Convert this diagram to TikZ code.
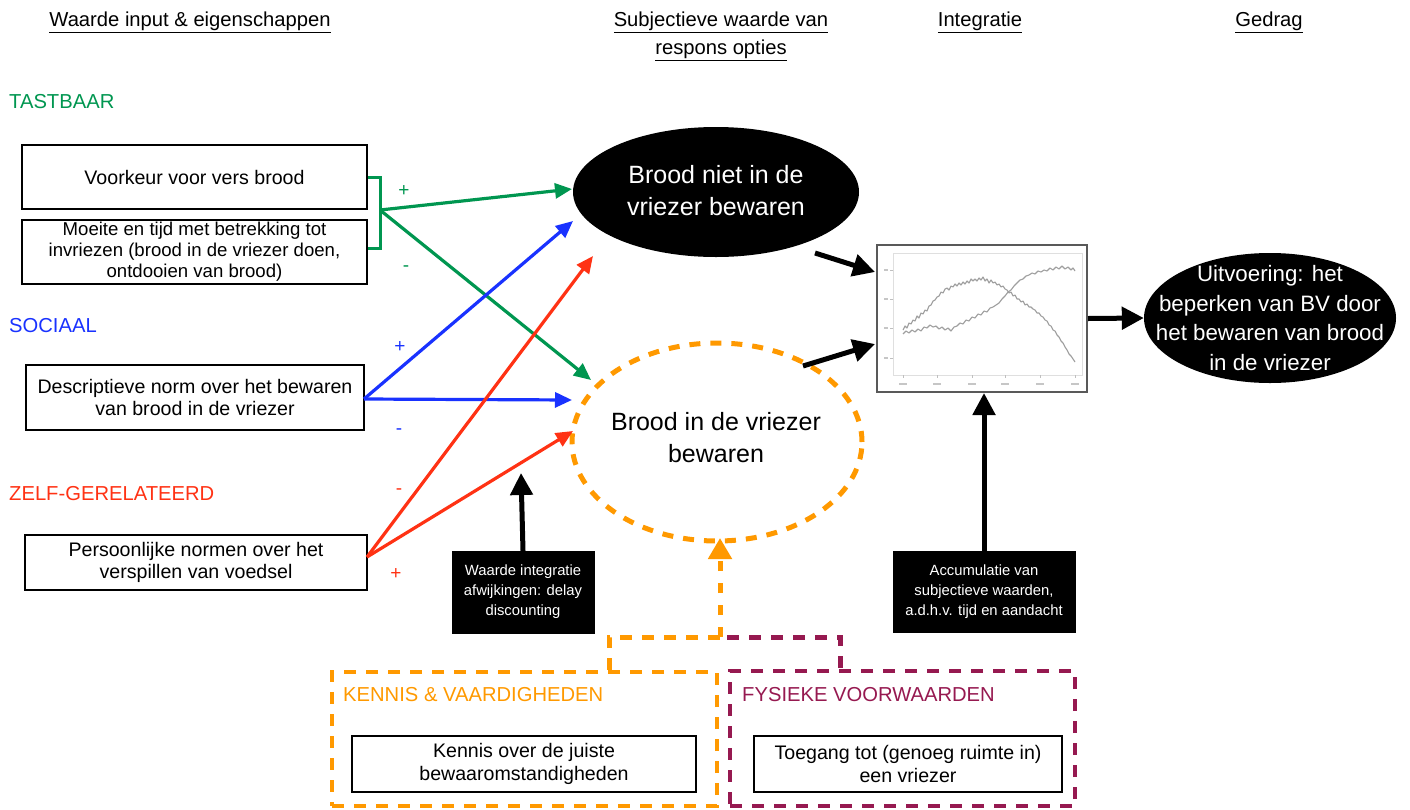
\documentclass[tikz,border=0pt]{standalone}
\usepackage{fontspec}
\setmainfont{Liberation Sans}
\usetikzlibrary{arrows.meta,shapes.geometric}
\definecolor{tgreen}{RGB}{0,150,80}
\definecolor{sblue}{RGB}{25,50,255}
\definecolor{zred}{RGB}{255,50,20}
\definecolor{korange}{RGB}{255,153,0}
\definecolor{fpurple}{RGB}{150,25,80}
\newcommand\ttlfont{\fontsize{20.2}{28}\selectfont}
\newcommand\bxfont{\fontsize{19.6}{22.3}\selectfont}
\newcommand\bxsmallfont{\fontsize{18.6}{21}\selectfont}
\newcommand\elfont{\fontsize{25}{32}\selectfont}
\newcommand\erfont{\fontsize{22.3}{29.5}\selectfont}
\newcommand\bbfont{\fontsize{14.8}{20}\selectfont}
\newcommand\pmfont{\fontsize{19}{19}\selectfont}
\begin{document}
\begin{tikzpicture}[x=1pt,y=-1pt,
  inbox/.style={draw=black, line width=1.5pt, inner sep=0pt, align=center, font=\bxfont, fill=white},
  blackbox/.style={draw=black, fill=black, text=white, inner sep=0pt, align=center, font=\bbfont},
  cat/.style={anchor=west, inner sep=0pt, font=\ttlfont},
  ttl/.style={inner sep=0pt, align=center, font=\ttlfont},
  pm/.style={inner sep=0pt, font=\pmfont},
  carrow/.style={line width=3.2pt, -{Triangle[length=17pt,width=15pt]}},
  barrow/.style={line width=5pt, -{Triangle[length=22pt,width=22pt]}},
  dbox/.style={line width=4.5pt, dash pattern=on 12pt off 10pt, inner sep=0pt},
  curve/.style={gray!75, line width=1.1pt, line join=round}
]
\useasboundingbox (0,0) rectangle (1410,809);

% titles
\node[ttl] (h1) at (190,22) {\underline{Waarde input \& eigenschappen}};
\node[ttl] (h2) at (721,36) {\underline{Subjectieve waarde van}\\\underline{respons opties}};
\node[ttl] (h3) at (980,22) {\underline{Integratie}};
\node[ttl] (h4) at (1269,22) {\underline{Gedrag}};

% category labels
\node[cat, text=tgreen] (c1) at (9,102) {TASTBAAR};
\node[cat, text=sblue] (c2) at (9,326) {SOCIAAL};
\node[cat, text=zred] (c3) at (9,494) {ZELF-GERELATEERD};

% input boxes
\node[inbox, minimum width=345, minimum height=64] (b1) at (194.5,177) {Voorkeur voor vers brood};
\node[inbox, font=\bxsmallfont, minimum width=345, minimum height=64] (b2) at (194.5,252) {Moeite en tijd met betrekking tot\\invriezen (brood in de vriezer doen,\\ontdooien van brood)};
\node[inbox, minimum width=338, minimum height=65] (b3) at (195,397.5) {Descriptieve norm over het bewaren\\van brood in de vriezer};
\node[inbox, minimum width=342, minimum height=55] (b4) at (196,562.5) {Persoonlijke normen over het\\verspillen van voedsel};

% ellipses
\node[ellipse, fill=black, minimum width=286, minimum height=130, inner sep=0pt] (e1) at (716,192) {};
\node[text=white, align=center, font=\elfont, inner sep=0pt] (e1t) at (716,191) {Brood niet in de\\vriezer bewaren};
\node[ellipse, draw=korange, line width=5pt, dash pattern=on 11pt off 10pt, minimum width=290, minimum height=198, inner sep=0pt] (e2) at (717,442) {};
\node[align=center, font=\elfont, inner sep=0pt] (e2t) at (716,438) {Brood in de vriezer\\bewaren};
\node[ellipse, fill=black, minimum width=252, minimum height=130, inner sep=0pt] (e3) at (1270,318) {};
\node[text=white, align=center, font=\erfont, inner sep=0pt] (e3t) at (e3.center) {Uitvoering: het\\beperken van BV door\\het bewaren van brood\\in de vriezer};

% integration plot image
\node[draw=gray!70!black, line width=2pt, fill=white, minimum width=210, minimum height=147, inner sep=0pt] (img) at (982,318.5) {};
\draw[gray!25, line width=1pt] (893,253) rectangle (1082,375);
\foreach \xx in {903,937,972,1005,1040,1075} {
  \draw[gray!50, line width=0.6pt] (\xx,375) -- (\xx,378);
  \draw[gray!45, line width=1.2pt] (\xx-4,384) -- (\xx+4,384);
}
\foreach \yy in {270,299,328,358} {
  \draw[gray!50, line width=0.6pt] (893,\yy) -- (890,\yy);
  \draw[gray!45, line width=1.2pt] (884,\yy) -- (888,\yy);
}
\draw[curve] (903,330) -- (905,326) -- (907,328) -- (909,323) -- (911,324) -- (913,320) -- (915,321) -- (917,316) -- (919,318) -- (921,313) -- (923,314) -- (925,310) -- (927,311) -- (929,306) -- (931,305) -- (933,301) -- (935,300) -- (937,297) -- (939,296) -- (941,292) -- (943,293) -- (945,289) -- (947,288) -- (949,290) -- (951,286) -- (953,287) -- (955,284) -- (957,286) -- (959,283) -- (961,285) -- (963,282) -- (965,284) -- (967,281) -- (969,283) -- (971,279) -- (973,281) -- (975,279) -- (977,281) -- (979,278) -- (981,280) -- (983,277) -- (985,281) -- (987,279) -- (989,283) -- (991,280) -- (993,283) -- (995,282) -- (997,285) -- (999,284) -- (1001,287) -- (1003,286) -- (1005,289) -- (1007,290) -- (1009,293) -- (1011,292) -- (1013,296) -- (1015,295) -- (1017,299) -- (1019,299) -- (1021,302) -- (1023,301) -- (1025,305) -- (1027,304) -- (1029,307) -- (1031,307) -- (1033,309) -- (1035,310) -- (1037,313) -- (1039,313) -- (1041,316) -- (1043,317) -- (1045,320) -- (1047,321) -- (1049,325) -- (1051,326) -- (1053,330) -- (1055,331) -- (1057,335) -- (1059,337) -- (1061,341) -- (1063,343) -- (1065,347) -- (1067,350) -- (1069,354) -- (1071,356) -- (1073,359) -- (1075,362);
\draw[curve] (903,334) -- (906,331) -- (909,333) -- (912,330) -- (915,332) -- (918,329) -- (921,331) -- (924,327) -- (927,328) -- (930,325) -- (933,327) -- (936,326) -- (939,329) -- (942,327) -- (945,330) -- (948,328) -- (951,331) -- (954,327) -- (957,326) -- (960,323) -- (963,324) -- (966,320) -- (969,321) -- (972,317) -- (975,318) -- (978,314) -- (981,315) -- (984,311) -- (987,312) -- (990,308) -- (993,307) -- (996,305) -- (999,303) -- (1002,299) -- (1005,296) -- (1008,292) -- (1011,290) -- (1014,286) -- (1017,283) -- (1020,280) -- (1023,279) -- (1026,276) -- (1029,275) -- (1032,273) -- (1035,274) -- (1038,271) -- (1041,272) -- (1044,270) -- (1047,271) -- (1050,268) -- (1053,270) -- (1056,267) -- (1059,269) -- (1062,266) -- (1065,269) -- (1068,267) -- (1071,270) -- (1073,268) -- (1075,271);

% black boxes
\node[blackbox, minimum width=142, minimum height=82] (bb1) at (523,592) {Waarde integratie\\afwijkingen: delay\\discounting};
\node[blackbox, minimum width=182, minimum height=81] (bb2) at (984,591.5) {Accumulatie van\\subjectieve waarden,\\a.d.h.v. tijd en aandacht};

% dashed groups
\node[dbox, draw=korange, minimum width=385, minimum height=134] (kb) at (524.5,739) {};
\node[dbox, draw=fpurple, minimum width=345, minimum height=135] (fb) at (902.5,738.5) {};
\node[cat, text=korange] (c4) at (343,695) {KENNIS \& VAARDIGHEDEN};
\node[cat, text=fpurple] (c5) at (742,695) {FYSIEKE VOORWAARDEN};
\node[inbox, minimum width=344, minimum height=56] (k1) at (524,764) {Kennis over de juiste\\bewaaromstandigheden};
\node[inbox, minimum width=308, minimum height=56] (f1) at (908,764) {Toegang tot (genoeg ruimte in)\\een vriezer};

% coordinates for connector ends
\coordinate (gj) at (380,210);
\coordinate (tg1) at (572,189);
\coordinate (tg2) at (591,380);
\coordinate (sb) at (364,399);
\coordinate (tb1) at (573,221);
\coordinate (tb2) at (572,400);
\coordinate (sr) at (367,557);
\coordinate (tr1) at (593,256);
\coordinate (tr2) at (573,431);
\coordinate (sk1) at (815,253);
\coordinate (tk1) at (875,272);
\coordinate (sk2) at (803,366);
\coordinate (tk2) at (875,344);
\coordinate (tw) at (521,473);
\coordinate (bl) at (609,637);
\coordinate (oj) at (720,637);
\coordinate (bm) at (727,637);
\coordinate (br) at (840,637);
\coordinate (to) at (720,538);

% green bracket and arrows
\draw[tgreen, line width=3pt] (b1.east) -- (b1.east -| gj) -- ([yshift=4pt]b2.east -| gj) -- ([yshift=4pt]b2.east);
\draw[carrow, tgreen] (gj) -- (tg1);
\draw[carrow, tgreen] (gj) -- (tg2);
% blue arrows
\draw[carrow, sblue] (sb) -- (tb1);
\draw[carrow, sblue] (sb) -- (tb2);
% red arrows
\draw[carrow, zred] (sr) -- (tr1);
\draw[carrow, zred] (sr) -- (tr2);

% signs
\node[pm, text=tgreen] (p1) at (404,191) {+};
\node[pm, text=tgreen] (p2) at (406,269) {-};
\node[pm, text=sblue] (p3) at (400,347) {+};
\node[pm, text=sblue] (p4) at (399,432) {-};
\node[pm, text=zred] (p5) at (399,492) {-};
\node[pm, text=zred] (p6) at (396,574) {+};

% black arrows
\draw[barrow] (sk1) -- (tk1);
\draw[barrow] (sk2) -- (tk2);
\draw[barrow] (img.east) -- (e3.west);
\draw[barrow] (bb1.north) -- (tw);
\draw[barrow] (bb2.north) -- (bb2.north |- img.south);

% bracket of the bottom groups
\draw[korange, line width=5pt, dash pattern=on 12pt off 10pt] (bl |- kb.north) -- (bl) -- (bm);
\draw[fpurple, line width=5pt, dash pattern=on 12pt off 10pt] (bm) -- (br) -- (br |- fb.north);
\draw[korange, line width=5pt, dash pattern=on 10pt off 12pt, -{Triangle[length=21pt,width=23pt]}] (oj) -- (to);
\end{tikzpicture}
\end{document}
